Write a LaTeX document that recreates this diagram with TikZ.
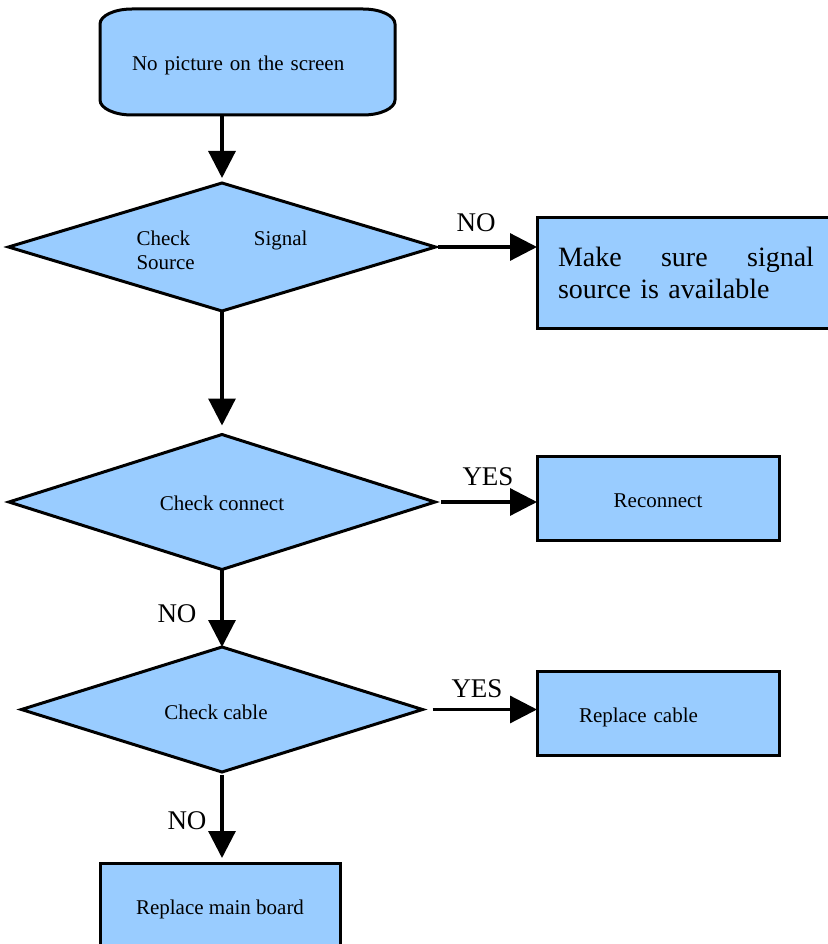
\documentclass[tikz,border=0pt]{standalone}
\usepackage{fontspec}
\setmainfont{Liberation Serif}
\usetikzlibrary{shapes.geometric,arrows.meta,backgrounds}
\definecolor{boxblue}{HTML}{99CCFF}
\newcommand\smallfnt{\fontsize{21pt}{24pt}\selectfont}
\newcommand\bigfnt{\fontsize{28pt}{32pt}\selectfont}
\newcommand\lblfnt{\fontsize{27pt}{30pt}\selectfont}
\newcommand\lowered[2]{\raisebox{-#1}[\height][\depth]{#2}}
\tikzset{
  shapebase/.style={fill=boxblue, draw=black, line width=3pt, inner sep=0pt, outer sep=0pt},
  procbox/.style={shapebase, rectangle, font=\smallfnt},
  decision/.style={shapebase, diamond, aspect=3.3, font=\smallfnt},
  flow/.style={line width=3.2pt, -{Triangle[width=27pt,length=27pt]}},
  lbl/.style={font=\lblfnt, inner sep=0pt, outer sep=0pt},
}
\begin{document}
\begin{tikzpicture}[x=1pt,y=1pt]
\useasboundingbox (0,0) rectangle (827,-944);

% start terminal (text node, outline drawn on background)
\node[font=\smallfnt, inner sep=0pt, outer sep=0pt, minimum width=295pt, minimum height=106pt,
      text width=231pt, align=left] (start) at (247.5,-62) {\lowered{3pt}{No picture on the screen}};
\begin{scope}[on background layer]
\draw[fill=boxblue, draw=black, line width=3pt]
  ([xshift=32pt]start.north west) -- ([xshift=-32pt]start.north east)
  arc[start angle=90, end angle=0, x radius=32pt, y radius=15pt]
  -- ([yshift=15pt]start.south east)
  arc[start angle=0, end angle=-90, x radius=32pt, y radius=15pt]
  -- ([xshift=32pt]start.south west)
  arc[start angle=270, end angle=180, x radius=32pt, y radius=15pt]
  -- ([yshift=-15pt]start.north west)
  arc[start angle=180, end angle=90, x radius=32pt, y radius=15pt]
  -- cycle;
\end{scope}

% decisions
\node[decision, minimum width=427pt, minimum height=128pt] (d1) at (222,-247)
  {\lowered{3pt}{\parbox{171pt}{Check\hfill Signal\\Source}}};
\node[decision, minimum width=426pt, minimum height=135pt] (d2) at (222,-502) {\lowered{1pt}{Check connect}};
\node[decision, minimum width=401pt, minimum height=125pt] (d3) at (222,-709.5) {\lowered{3pt}{Check cable}\kern12pt};

% process boxes
\node[procbox, minimum width=298pt, minimum height=111pt, font=\bigfnt,
      text width=256pt, align=left] (b1) at (686,-272.5)
  {Make\hfill sure\hfill signal\\source is available};
\node[procbox, minimum width=242pt, minimum height=84pt] (b2) at (658,-498) {\lowered{3pt}{Reconnect}};
\node[procbox, minimum width=242pt, minimum height=84pt, text width=158pt, align=left] (b3) at (658,-713) {\lowered{4pt}{Replace cable}};
\node[procbox, minimum width=240pt, minimum height=88pt] (b4) at (220,-907) {\lowered{2pt}{Replace main board}};

% labels
\node[lbl] (no1) at (476,-223) {NO};
\node[lbl] (yes1) at (488,-477) {YES};
\node[lbl] (no2) at (177,-614) {NO};
\node[lbl] (yes2) at (477,-689) {YES};
\node[lbl] (no3) at (187,-821) {NO};

% connectors
\draw[flow, shorten >=5pt] (d1.north |- start.south) -- (d1.north);
\draw[flow, shorten <=2pt] (d1.east) -- (b1.west |- d1.east);
\draw[flow, shorten >=9pt] (d1.south) -- (d2.north);
\draw[flow, shorten <=6pt] (d2.east) -- (b2.west |- d2.east);
\draw[flow] (d2.south) -- (d3.north);
\draw[flow, shorten <=10pt] (d3.east) -- (b3.west |- d3.east);
\draw[flow, shorten <=3pt, shorten >=5pt] (d3.south) -- (d3.south |- b4.north);
\end{tikzpicture}
\end{document}
